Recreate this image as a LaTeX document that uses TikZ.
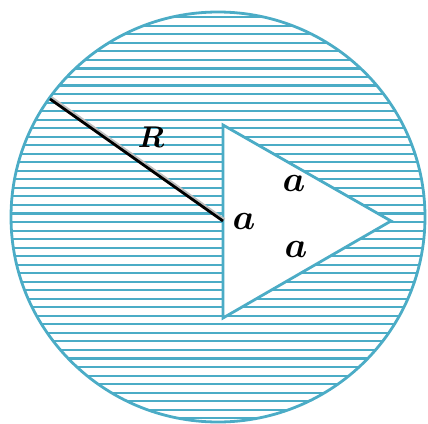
\RequirePackage{fix-cm}
\documentclass[tikz,border=0pt]{standalone}
\definecolor{aqua}{HTML}{4BACC6}
\DeclareMathSizes{36}{36}{25}{18}
\DeclareMathSizes{30}{30}{21}{15}
\begin{document}
\begin{tikzpicture}[x=1pt,y=-1pt,
  outline/.style={draw=aqua,line width=2.8pt},
  hatch/.style={draw=aqua,line width=2.1pt},
  radius line/.style={draw=black,line width=2.8pt},
  lbl/.style={inner sep=0pt,font=\fontsize{36}{40}\selectfont\boldmath},
  lblR/.style={inner sep=0pt,font=\fontsize{30}{34}\selectfont\boldmath}]
\useasboundingbox (0,0) rectangle (428,423);
\coordinate (O) at (218,217);
\coordinate (T1) at (223,125);
\coordinate (T2) at (223,318);
\coordinate (T3) at (391,221);
\coordinate (Rend) at (50,99);
\coordinate (Rstart) at (223,221);
% hatching clipped to circle
\begin{scope}
  \clip (O) ellipse [x radius=207, y radius=205];
  \foreach \i in {0,...,47} {
    \draw[hatch] (0,17.3+8.53*\i) -- (428,17.3+8.53*\i);
  }
\end{scope}
\draw[outline] (O) ellipse [x radius=207, y radius=205];
\draw[outline,fill=white,line join=miter] (T1) -- (T3) -- (T2) -- cycle;
\draw[draw=black!25,line width=2.5pt] ([xshift=1.5pt,yshift=1.5pt]Rend) -- ([xshift=1.5pt,yshift=1.5pt]Rstart);
\draw[radius line] (Rend) -- (Rstart);
\node[lblR] (R) at (151,137) {$R$};
\node[lbl] (a1) at (244,221) {$a$};
\node[lbl] (a2) at (294,183) {$a$};
\node[lbl] (a3) at (296,249) {$a$};
\end{tikzpicture}
\end{document}
